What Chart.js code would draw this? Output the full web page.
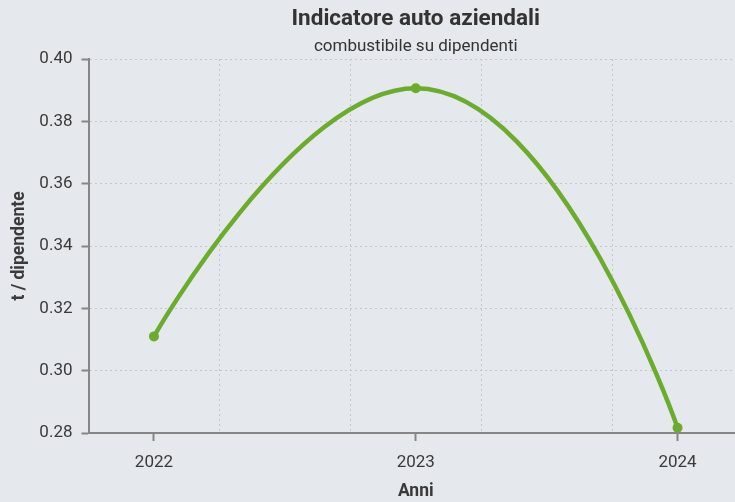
<!DOCTYPE html>
<html>
<head>
<meta charset="utf-8">
<script src="https://cdn.jsdelivr.net/npm/chart.js@4/dist/chart.umd.min.js"></script>
<style>
  html, body { margin: 0; padding: 0; background: #e5e8ec; overflow: hidden; }
  #wrap { position: relative; width: 760px; height: 502px; }
</style>
</head>
<body>
<div id="wrap"><canvas id="c"></canvas></div>
<script>
// ---- data ----
const years = [2022, 2023, 2024];
const values = [0.311, 0.3906, 0.2817];
const yTicks = [0.28, 0.30, 0.32, 0.34, 0.36, 0.38, 0.40];
const xTickYears = [2022, 2023, 2024];
const xGridMarks = [2022.25, 2022.75, 2023.25, 2023.75];

const titleText = 'Indicatore auto aziendali';
const subtitleText = 'combustibile su dipendenti';
const xTitle = 'Anni';
const yTitle = 't / dipendente';

const GREEN = '#6cac2c';
const AXIS = '#868686';
const GRID = '#c3c6cb';
const TEXT = '#3a3a3a';

// smooth curve (control points from the scaled pixel positions)
const smoothPlugin = {
  id: 'smoothCurve',
  beforeDatasetDraw(chart, args) {
    const meta = args.meta;
    const line = meta.dataset;
    if (!line) return;
    line.updateControlPoints(chart.chartArea, meta.iScale.axis);
    const pts = line.points;
    const smooth = 0.5;
    const n = pts.length;
    for (let i = 0; i < n; i++) {
      const p = pts[i];
      p.cp1x = p.x; p.cp1y = p.y; p.cp2x = p.x; p.cp2y = p.y;
    }
    for (let i = 1; i < n - 1; i++) {
      const prev = pts[i - 1], p = pts[i], next = pts[i + 1];
      let vx = next.x - prev.x, vy = next.y - prev.y;
      const lp = Math.hypot(p.x - prev.x, p.y - prev.y);
      const ln = Math.hypot(next.x - p.x, next.y - p.y);
      const r = ln / (lp + ln);
      let c1x = p.x + vx * smooth * r, c1y = p.y + vy * smooth * r;
      c1x = Math.max(Math.min(c1x, Math.max(next.x, p.x)), Math.min(next.x, p.x));
      c1y = Math.max(Math.min(c1y, Math.max(next.y, p.y)), Math.min(next.y, p.y));
      vx = c1x - p.x; vy = c1y - p.y;
      let c0x = p.x - vx * lp / ln, c0y = p.y - vy * lp / ln;
      c0x = Math.max(Math.min(c0x, Math.max(prev.x, p.x)), Math.min(prev.x, p.x));
      c0y = Math.max(Math.min(c0y, Math.max(prev.y, p.y)), Math.min(prev.y, p.y));
      vx = p.x - c0x; vy = p.y - c0y;
      c1x = p.x + vx * ln / lp; c1y = p.y + vy * ln / lp;
      p.cp1x = c0x; p.cp1y = c0y; p.cp2x = c1x; p.cp2y = c1y;
    }
    line._path = undefined;
  }
};

Chart.defaults.font.family = 'Roboto, "Noto Sans", sans-serif';
Chart.defaults.color = TEXT;

new Chart(document.getElementById('c'), {
  type: 'line',
  data: {
    datasets: [{
      data: years.map((y, i) => ({ x: y, y: values[i] })),
      borderColor: GREEN,
      backgroundColor: GREEN,
      borderWidth: 4.5,
      tension: 0.4,
      pointRadius: 5,
      pointBorderWidth: 0,
      pointBackgroundColor: GREEN,
      fill: false
    }]
  },
  options: {
    responsive: true,
    maintainAspectRatio: false,
    animation: false,
    events: [],
    layout: { padding: { top: 0, right: 17, bottom: 0, left: 0 } },
    plugins: {
      legend: { display: false },
      tooltip: { enabled: false },
      title: {
        display: true, text: titleText, fullSize: false,
        color: '#333333',
        font: { size: 22.5, weight: 'bold' },
        padding: { top: 6, bottom: 4 }
      },
      subtitle: {
        display: true, text: subtitleText, fullSize: false,
        color: '#333333',
        font: { size: 17, weight: 'normal' },
        padding: { top: 0, bottom: 1.6 }
      }
    },
    scales: {
      x: {
        type: 'linear',
        min: 2021.75,
        max: 2024.25,
        afterBuildTicks(scale) {
          const t = [];
          xTickYears.forEach(v => t.push({ value: v, major: true }));
          xGridMarks.forEach(v => t.push({ value: v }));
          t.sort((a, b) => a.value - b.value);
          scale.ticks = t;
        },
        afterFit(scale) { scale.height = 69; },
        ticks: {
          autoSkip: false,
          maxRotation: 0,
          padding: 12,
          color: TEXT,
          font: { size: 17 },
          callback(v) { return xTickYears.includes(v) ? String(v) : ''; }
        },
        grid: {
          drawOnChartArea: true,
          drawTicks: true,
          tickLength: 8,
          lineWidth: 1,
          color: (ctx) => (ctx.tick && xTickYears.includes(ctx.tick.value)) ? 'rgba(0,0,0,0)' : GRID,
          tickColor: (ctx) => (ctx.tick && xTickYears.includes(ctx.tick.value)) ? AXIS : 'rgba(0,0,0,0)',
          tickWidth: 2
        },
        border: { display: true, color: AXIS, width: 2, dash: [2, 3] },
        title: {
          display: true, text: xTitle, color: TEXT,
          font: { size: 17.5, weight: 'bold' },
          padding: { top: 0, bottom: 0 }
        }
      },
      y: {
        type: 'linear',
        min: 0.28,
        max: 0.40,
        afterBuildTicks(scale) { scale.ticks = yTicks.map(v => ({ value: v })); },
        afterFit(scale) { scale.width = 88.5; },
        ticks: {
          padding: 9,
          color: TEXT,
          font: { size: 17 },
          callback(v) { return Number(v).toFixed(2); }
        },
        grid: {
          drawOnChartArea: true,
          drawTicks: true,
          tickLength: 7,
          lineWidth: 1,
          color: (ctx) => (ctx.tick && ctx.tick.value === 0.28) ? 'rgba(0,0,0,0)' : GRID,
          tickColor: AXIS,
          tickWidth: 2
        },
        border: { display: true, color: AXIS, width: 2, dash: [2, 3] },
        title: {
          display: true, text: yTitle, color: TEXT,
          font: { size: 17.5, weight: 'bold' },
          padding: { top: 9, bottom: 0 }
        }
      }
    }
  },
  plugins: [smoothPlugin]
});
</script>
</body>
</html>
